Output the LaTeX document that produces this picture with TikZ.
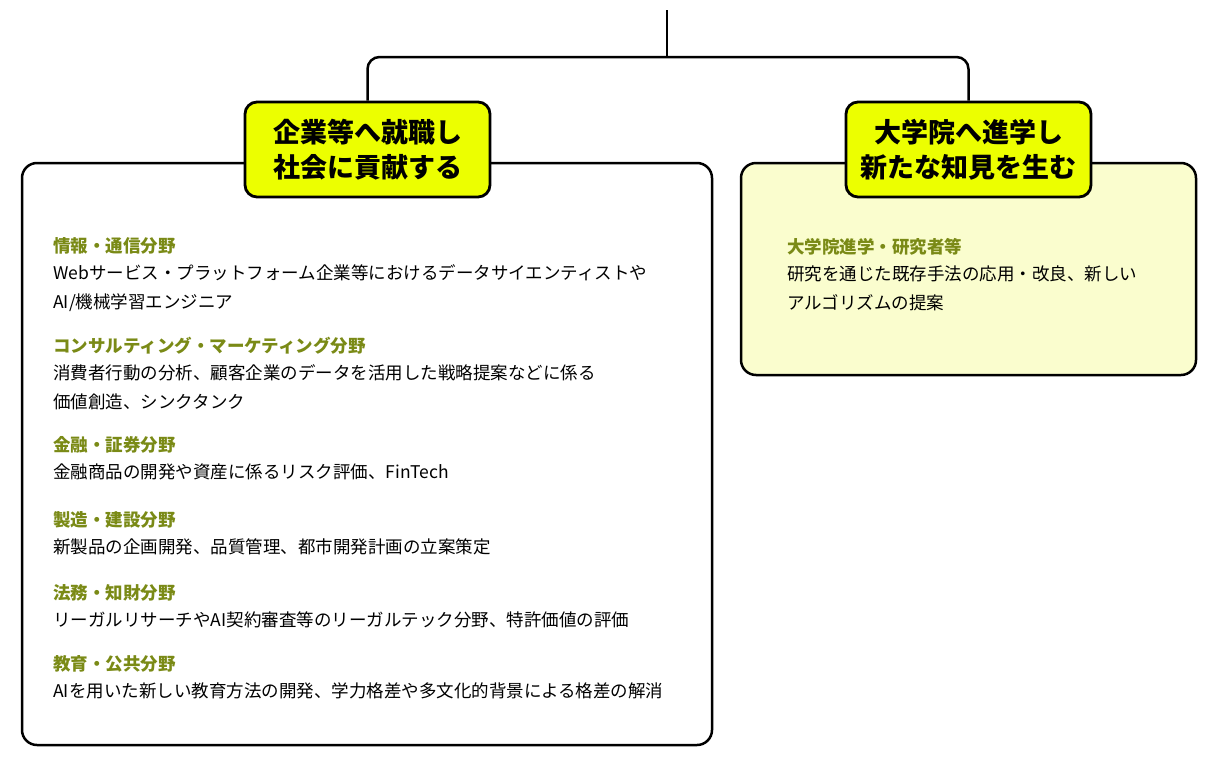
\documentclass[tikz,border=0pt]{standalone}
\usepackage{fontspec}
\setmainfont{Noto Sans CJK JP}
\usetikzlibrary{positioning}
\definecolor{headyellow}{RGB}{236,255,0}
\definecolor{paleyellow}{RGB}{250,253,206}
\definecolor{fieldgreen}{RGB}{122,138,22}
\newcommand{\fldtitle}[1]{{\bfseries\color{fieldgreen}#1}}

\begin{document}
\begin{tikzpicture}[x=1pt, y=-1pt, line width=2.5pt,
  headbox/.style={draw, rounded corners=12pt, fill=headyellow, line width=2.8pt,
    minimum width=245pt, minimum height=95pt, align=center,
    font=\bfseries\fontsize{27}{35}\selectfont},
  areabox/.style={draw, rounded corners=15pt},
  field/.style={anchor=north west, inner sep=0pt, align=left,
    font=\fontsize{17.5}{29}\selectfont}]

\useasboundingbox (0,0) rectangle (1220,763);

% content boxes
\node[areabox, minimum width=690pt, minimum height=582pt] (jobbox) at (367,454) {};
\node[areabox, fill=paleyellow, minimum width=455pt, minimum height=212pt] (gradbox) at (968.5,269) {};

% heading boxes
\node[headbox] (jobhead) at (367.5,149.5) {企業等へ就職し\\社会に貢献する};
\node[headbox] (gradhead) at (968.5,149.5) {大学院へ進学し\\新たな知見を生む};

% tree lines
\coordinate (root) at (667,10);
\coordinate (split) at (667,57);
\draw (root) -- (split);
\draw[rounded corners=12pt] (jobhead.north) -- (jobhead.north |- split) -- (gradhead.north |- split) -- (gradhead.north);

% left fields
\node[field] (f1) at (52,236) {\fldtitle{情報・通信分野}\\[-2pt]
  Webサービス・プラットフォーム企業等におけるデータサイエンティストや\\
  AI/機械学習エンジニア};
\node[field] (f2) at (52,336) {\fldtitle{コンサルティング・マーケティング分野}\\[-2pt]
  消費者行動の分析、顧客企業のデータを活用した戦略提案などに係る\\
  価値創造、シンクタンク};
\node[field] (f3) at (52,435) {\fldtitle{金融・証券分野}\\[-2pt]
  金融商品の開発や資産に係るリスク評価、FinTech};
\node[field] (f4) at (52,510) {\fldtitle{製造・建設分野}\\[-2pt]
  新製品の企画開発、品質管理、都市開発計画の立案策定};
\node[field] (f5) at (52,583) {\fldtitle{法務・知財分野}\\[-2pt]
  リーガルリサーチやAI契約審査等のリーガルテック分野、特許価値の評価};
\node[field] (f6) at (52,654) {\fldtitle{教育・公共分野}\\[-2pt]
  AIを用いた新しい教育方法の開発、学力格差や多文化的背景による格差の解消};

% right field
\node[field] (g1) at (786,237) {\fldtitle{大学院進学・研究者等}\\[-2pt]
  研究を通じた既存手法の応用・改良、新しい\\
  アルゴリズムの提案};

\end{tikzpicture}
\end{document}
